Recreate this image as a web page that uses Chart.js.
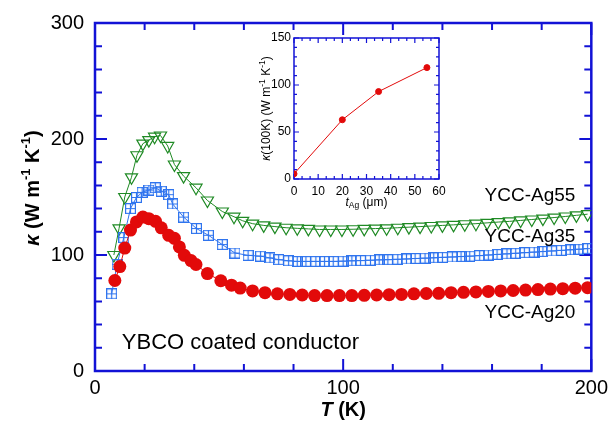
<!DOCTYPE html>
<html>
<head>
<meta charset="utf-8">
<script src="https://cdn.jsdelivr.net/npm/chart.js@4.4.1/dist/chart.umd.min.js"></script>
<style>
  html, body { margin: 0; padding: 0; background: #fff; }
  #wrap { position: relative; width: 613px; height: 421px; }
  #main { position: absolute; left: 0; top: 0; }
  #inset { position: absolute; left: 230px; top: 25px; }
</style>
</head>
<body>
<div id="wrap">
  <canvas id="main" width="613" height="421"></canvas>
  <canvas id="inset" width="225" height="195"></canvas>
</div>
<script>
// main plot: thermal conductivity vs temperature
const tAg20 = [8, 10, 12, 14.3, 16.7, 19.3, 21.7, 24.4, 26.7, 29.7, 32, 34, 36, 38.7, 40.7, 45.3, 50.7, 55,
    58.5, 63.5, 68.5, 73.5, 78.5, 83.5, 88.5, 93.5, 98.5, 103.5, 108.5, 113.5, 118.5, 123.5, 128.5, 133.5,
    138.5, 143.5, 148.5, 153.5, 158.5, 163.5, 168.5, 173.5, 178.5, 183.5, 188.5, 193.5, 198.5];
const kAg20 = [78, 90, 106, 121.5, 128.5, 132.7, 131.3, 129, 123.4, 117, 114.4, 107, 99.7, 95.2, 91.8, 84, 77.8, 74,
    71.5, 69, 67.5, 66.5, 66, 65.5, 65, 65, 65, 65, 65.2, 65.5, 65.8, 66, 66.5, 66.8,
    67, 67.5, 67.8, 68.2, 68.6, 69, 69.4, 69.8, 70.2, 70.6, 71, 71.4, 71.8];

const tAg35 = [6.7, 8.9, 11.6, 14.3, 16.7, 19, 21.7, 24.3, 26.7, 29.7, 31.3, 35.7, 40.9, 45.7, 51.3, 56.4, 61.7,
    66.7, 70.5, 74, 78, 81.5, 85, 89, 92.5, 96, 100, 103.5, 107, 111, 114.5, 118, 122, 125.5, 129, 133,
    136.5, 140, 144, 147.5, 151, 155, 158.5, 162, 166, 169.5, 173, 177, 180.5, 184, 188, 191.5, 195, 198.5];
const kAg35 = [66.5, 92, 115, 140, 149.6, 154, 156, 158, 155, 152, 144, 132.7, 122.8, 117, 109, 101.7, 99.7,
    99, 97.5, 96, 95, 94.5, 94.5, 94.5, 94.5, 94.5, 94.7, 95, 95.2, 95.5, 95.8, 96, 96.3, 96.6, 97, 97.3,
    97.6, 98, 98.3, 98.7, 99, 99.5, 100, 100.5, 101, 101.5, 102, 102.5, 103, 103.5, 104, 104.5, 105, 105.5];

const tAg55 = [7.6, 9.7, 12, 14.7, 16.9, 19.3, 21.7, 24, 26.4, 29.3, 32, 35.7, 40.7, 45.3, 51.3, 56, 59.5,
    63.5, 68, 72.5, 77, 81.5, 86, 90.5, 95, 99.5, 104, 108.5, 113, 117.5, 122, 126.5, 131, 135.5, 140,
    144.5, 149, 153.5, 158, 162.5, 167, 171.5, 176, 180.5, 185, 189.5, 194, 198.5];
const kAg55 = [100, 123, 150, 167, 186, 196, 199, 202, 203, 194, 178, 168, 158, 147, 137.5, 133, 129.5,
    127, 125.5, 124.5, 123.5, 123, 122.5, 122, 122, 122, 122.2, 122.5, 122.8, 123, 123.5, 124, 124.5, 125, 125.5,
    126, 126.5, 127, 127.7, 128.4, 129, 129.8, 130.6, 131.4, 132.3, 133.2, 134.2, 135.2];

const seriesNames = ['YCC-Ag20', 'YCC-Ag35', 'YCC-Ag55'];

// inset: kappa at 100 K vs silver thickness
const insetThickness = [0, 20, 35, 55];
const insetKappa = [5.5, 63, 93, 118.5];

const FONT = "'Liberation Sans', Arial, sans-serif";
const AXIS_BLUE = '#1212d6';
const RED = '#e20a0a';
const BLUE = '#2f74ee';
const GREEN = '#1f8a24';

const pts = (xs, ys) => xs.map((x, i) => ({ x: x, y: ys[i] }));

// square with a cross inside, used as the marker of the Ag35 series
function gridSquare(size, color) {
    const c = document.createElement('canvas');
    c.width = size;
    c.height = size;
    const g = c.getContext('2d');
    g.strokeStyle = color;
    g.lineWidth = 1.2;
    const h = size / 2;
    g.strokeRect(0.6, 0.6, size - 1.2, size - 1.2);
    g.beginPath();
    g.moveTo(h, 0.6); g.lineTo(h, size - 0.6);
    g.moveTo(0.6, h); g.lineTo(size - 0.6, h);
    g.stroke();
    return c;
}

function isMultiple(v, m) {
    return Math.abs(v / m - Math.round(v / m)) < 1e-6;
}

function stepsOf(min, max, step) {
    const out = [];
    const n = Math.round((max - min) / step);
    for (let i = 0; i <= n; i++) out.push(min + i * step);
    return out;
}

// frame on all four sides with inward ticks, mirrored
function frameTicks(cfg) {
    return {
        id: 'frameTicks',
        beforeDatasetsDraw(chart) {
            const { ctx, chartArea: a, scales } = chart;
            ctx.save();
            ctx.strokeStyle = AXIS_BLUE;
            ctx.lineWidth = cfg.tickWidth;
            ctx.beginPath();
            for (const v of stepsOf(scales.x.min, scales.x.max, cfg.xMinor)) {
                const px = scales.x.getPixelForValue(v);
                const len = isMultiple(v, cfg.xMajor) ? cfg.majorLen : cfg.minorLen;
                ctx.moveTo(px, a.bottom); ctx.lineTo(px, a.bottom - len);
                ctx.moveTo(px, a.top); ctx.lineTo(px, a.top + len);
            }
            for (const v of stepsOf(scales.y.min, scales.y.max, cfg.yMinor)) {
                const py = scales.y.getPixelForValue(v);
                const len = isMultiple(v, cfg.yMajor) ? cfg.majorLen : cfg.minorLen;
                ctx.moveTo(a.left, py); ctx.lineTo(a.left + len, py);
                ctx.moveTo(a.right, py); ctx.lineTo(a.right - len, py);
            }
            ctx.stroke();
            ctx.lineWidth = cfg.frameWidth;
            ctx.strokeRect(a.left, a.top, a.right - a.left, a.bottom - a.top);
            ctx.restore();
        }
    };
}

// draw a run of text pieces with different fonts / offsets
function drawRuns(ctx, runs, x, y, align) {
    let total = 0;
    for (const r of runs) {
        ctx.font = r.f;
        total += ctx.measureText(r.t).width;
    }
    let cx = align === 'center' ? x - total / 2 : x;
    ctx.textAlign = 'left';
    ctx.textBaseline = 'middle';
    for (const r of runs) {
        ctx.font = r.f;
        ctx.fillText(r.t, cx, y + (r.dy || 0));
        cx += ctx.measureText(r.t).width;
    }
}

const mainText = {
    id: 'mainText',
    afterDraw(chart) {
        const { ctx, chartArea: a, scales: { x, y } } = chart;
        ctx.save();
        ctx.fillStyle = '#000';
        const b20 = `bold 20px ${FONT}`;
        const bi20 = `italic bold 20px ${FONT}`;
        const sup = `bold 13px ${FONT}`;
        drawRuns(ctx, [{ t: 'T', f: bi20 }, { t: ' (K)', f: b20 }], (a.left + a.right) / 2, 410, 'center');

        ctx.save();
        ctx.translate(33, 188);
        ctx.rotate(-Math.PI / 2);
        drawRuns(ctx, [
            { t: 'κ', f: bi20 }, { t: ' (W m', f: b20 }, { t: '-1', f: sup, dy: -7 },
            { t: ' K', f: b20 }, { t: '-1', f: sup, dy: -7 }, { t: ')', f: b20 }
        ], 0, 0, 'center');
        ctx.restore();

        ctx.font = `19px ${FONT}`;
        ctx.textAlign = 'left';
        ctx.textBaseline = 'middle';
        ctx.fillText(seriesNames[2], x.getPixelForValue(157), y.getPixelForValue(151));
        ctx.fillText(seriesNames[1], x.getPixelForValue(157), y.getPixelForValue(115.6));
        ctx.fillText(seriesNames[0], x.getPixelForValue(157), y.getPixelForValue(50));
        ctx.font = `22px ${FONT}`;
        ctx.fillText('YBCO coated conductor', x.getPixelForValue(10.8), y.getPixelForValue(24));
        ctx.restore();
    }
};

new Chart(document.getElementById('main').getContext('2d'), {
    type: 'scatter',
    data: {
        datasets: [
            {
                label: seriesNames[0],
                data: pts(tAg20, kAg20),
                showLine: true,
                borderColor: RED,
                borderWidth: 1,
                pointStyle: 'circle',
                pointRadius: 6.5,
                pointBackgroundColor: RED,
                pointBorderColor: RED,
                pointBorderWidth: 0
            },
            {
                label: seriesNames[1],
                data: pts(tAg35, kAg35),
                showLine: true,
                borderColor: BLUE,
                borderWidth: 1,
                pointStyle: gridSquare(11, BLUE),
                pointRadius: 5.5
            },
            {
                label: seriesNames[2],
                data: pts(tAg55, kAg55),
                showLine: true,
                borderColor: GREEN,
                borderWidth: 1,
                pointStyle: 'triangle',
                pointRotation: 180,
                pointRadius: 7,
                pointBackgroundColor: 'rgba(255,255,255,0)',
                pointBorderColor: GREEN,
                pointBorderWidth: 1.2
            }
        ]
    },
    options: {
        responsive: false,
        animation: false,
        devicePixelRatio: 1,
        layout: { padding: { left: 0, right: 18, top: 18, bottom: 0 } },
        plugins: { legend: { display: false }, tooltip: { enabled: false } },
        scales: {
            x: {
                type: 'linear',
                min: 0,
                max: 200,
                afterFit(s) { s.height = 50; },
                grid: { display: false, drawTicks: false },
                border: { display: false },
                ticks: { stepSize: 100, maxRotation: 0, padding: 5, color: '#000', font: { size: 20, family: FONT } }
            },
            y: {
                min: 0,
                max: 300,
                afterFit(s) { s.width = 95; },
                grid: { display: false, drawTicks: false },
                border: { display: false },
                ticks: { stepSize: 100, padding: 11, color: '#000', font: { size: 20, family: FONT } }
            }
        }
    },
    plugins: [frameTicks({ xMinor: 20, xMajor: 100, yMinor: 20, yMajor: 100, minorLen: 7, majorLen: 12, tickWidth: 2, frameWidth: 2.5 }), mainText]
});

const insetText = {
    id: 'insetText',
    afterDraw(chart) {
        const { ctx, chartArea: a } = chart;
        ctx.save();
        ctx.fillStyle = '#000';
        const r12 = `12px ${FONT}`;
        const i12 = `italic 12px ${FONT}`;
        const small = `8.5px ${FONT}`;
        drawRuns(ctx, [{ t: 't', f: i12 }, { t: 'Ag', f: small, dy: 3 }, { t: ' (μm)', f: r12 }], (a.left + a.right) / 2, 178, 'center');
        ctx.save();
        ctx.translate(37, (a.top + a.bottom) / 2);
        ctx.rotate(-Math.PI / 2);
        drawRuns(ctx, [
            { t: 'κ', f: i12 }, { t: '(100K) (W m', f: r12 }, { t: '-1', f: small, dy: -4 },
            { t: ' K', f: r12 }, { t: '-1', f: small, dy: -4 }, { t: ')', f: r12 }
        ], 0, 0, 'center');
        ctx.restore();
        ctx.restore();
    }
};

new Chart(document.getElementById('inset').getContext('2d'), {
    type: 'scatter',
    data: {
        datasets: [{
            data: pts(insetThickness, insetKappa),
            showLine: true,
            borderColor: RED,
            borderWidth: 1,
            pointRadius: 3,
            pointBackgroundColor: RED,
            pointBorderColor: RED
        }]
    },
    options: {
        responsive: false,
        animation: false,
        devicePixelRatio: 1,
        layout: { padding: { left: 0, right: 16, top: 13, bottom: 0 } },
        plugins: { legend: { display: false }, tooltip: { enabled: false } },
        scales: {
            x: {
                type: 'linear',
                min: 0,
                max: 60,
                afterFit(s) { s.height = 41; },
                grid: { display: false, drawTicks: false },
                border: { display: false },
                ticks: { stepSize: 10, maxRotation: 0, padding: 5, color: '#000', font: { size: 12, family: FONT } }
            },
            y: {
                min: 0,
                max: 150,
                afterFit(s) { s.width = 64; },
                grid: { display: false, drawTicks: false },
                border: { display: false },
                ticks: { stepSize: 50, padding: 3, color: '#000', font: { size: 12, family: FONT } }
            }
        }
    },
    plugins: [frameTicks({ xMinor: 10 / 3, xMajor: 10, yMinor: 10, yMajor: 50, minorLen: 3, majorLen: 5, tickWidth: 1.2, frameWidth: 1.5 }), insetText]
});
</script>
</body>
</html>
